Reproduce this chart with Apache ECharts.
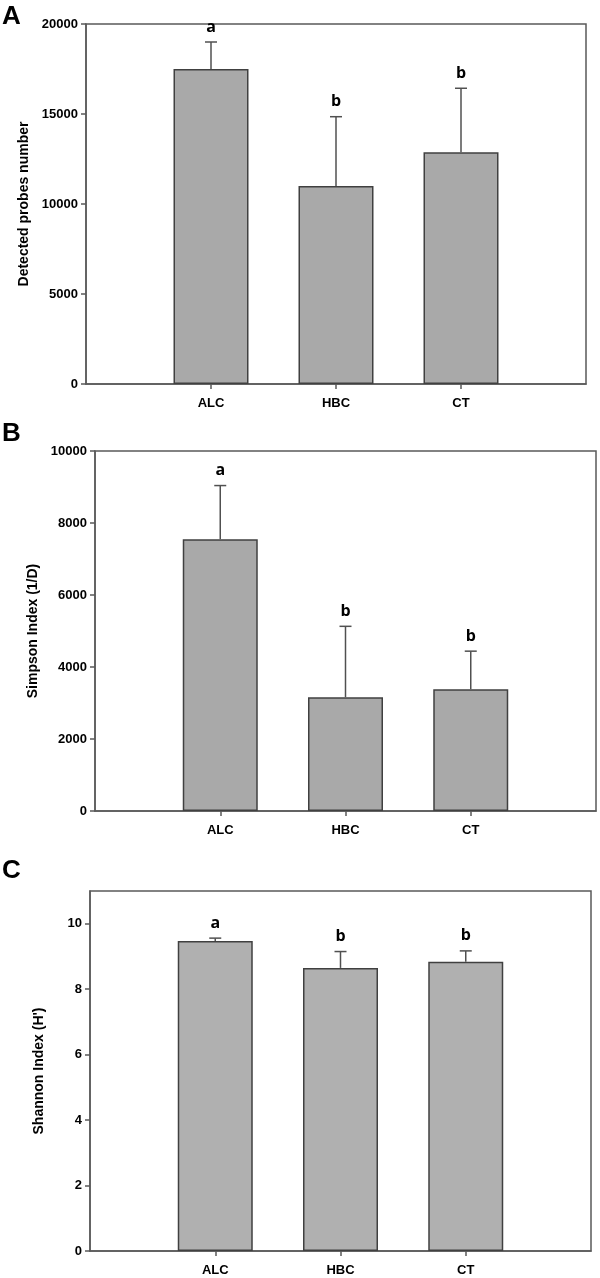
<!DOCTYPE html>
<html>
<head>
<meta charset="utf-8">
<script src="https://cdn.jsdelivr.net/npm/echarts@6/dist/echarts.min.js"></script>
<style>
html,body{margin:0;padding:0;background:#fff;}
#chart{width:600px;height:1278px;}
</style>
</head>
<body>
<div id="chart"></div>
<script>
// ---- data ----
const categories = ['ALC', 'HBC', 'CT'];
const probesMean = [17500, 11000, 12870];
const probesUpper = [19000, 14850, 16430];
const probesLetters = ['a', 'b', 'b'];
const simpsonMean = [7550, 3160, 3380];
const simpsonUpper = [9040, 5130, 4440];
const simpsonLetters = ['a', 'b', 'b'];
const shannonMean = [9.47, 8.65, 8.84];
const shannonUpper = [9.56, 9.15, 9.17];
const shannonLetters = ['a', 'b', 'b'];
const probesTicks = [0, 5000, 10000, 15000, 20000];
const simpsonTicks = [0, 2000, 4000, 6000, 8000, 10000];
const shannonTicks = [0, 2, 4, 6, 8, 10];
const panelTitles = ['Detected probes number', 'Simpson Index (1/D)', "Shannon Index (H')"];
const panelLetters = ['A', 'B', 'C'];

// ---- styles ----
const FONT = '"Liberation Sans", Arial, sans-serif';
const frameColor = '#5a5a5a';
const barEdge = '#404040';

const grids = [
  {left: 86, top: 24, width: 500, height: 360},
  {left: 95, top: 451, width: 501, height: 360},
  {left: 90, top: 891, width: 501, height: 360}
];
const yCfg = [
  {max: 20000, interval: 5000, ticks: probesTicks, gap: 38},
  {max: 10000, interval: 2000, ticks: simpsonTicks, gap: 47},
  {max: 11, interval: 1, ticks: shannonTicks, gap: 44}
];
const means = [probesMean, simpsonMean, shannonMean];
const uppers = [probesUpper, simpsonUpper, shannonUpper];
const letters = [probesLetters, simpsonLetters, shannonLetters];
const barColors = ['#a9a9a9', '#a9a9a9', '#b0b0b0'];
const catPos = categories.map((c, i) => i + 1);

const option = {
  animation: false,
  backgroundColor: '#fff',
  grid: grids.map(g => Object.assign({show: true, borderColor: frameColor, borderWidth: 1.5, backgroundColor: 'transparent'}, g)),
  xAxis: grids.map((g, i) => ({
    type: 'value', gridIndex: i, min: 0, max: 4, interval: 1,
    axisLine: {show: true, lineStyle: {color: frameColor, width: 1.5}},
    axisTick: {show: true, length: 5, customValues: catPos, lineStyle: {color: frameColor, width: 1.5}},
    axisLabel: {customValues: catPos, formatter: v => categories[Math.round(v) - 1] || '',
      fontFamily: FONT, fontWeight: 'bold', fontSize: 13, color: '#000', margin: 13},
    splitLine: {show: false}
  })),
  yAxis: yCfg.map((c, i) => ({
    type: 'value', gridIndex: i, min: 0, max: c.max, interval: c.interval,
    name: panelTitles[i], nameLocation: 'middle', nameRotate: 90, nameGap: c.gap,
    nameTextStyle: {fontFamily: FONT, fontWeight: 'bold', fontSize: 14, color: '#000'},
    axisLine: {show: true, lineStyle: {color: frameColor, width: 1.5}},
    axisTick: {show: true, length: 5, customValues: c.ticks, lineStyle: {color: frameColor, width: 1.5}},
    axisLabel: {customValues: c.ticks, formatter: v => String(v),
      fontFamily: FONT, fontWeight: 'bold', fontSize: 13, color: '#000', margin: 8},
    splitLine: {show: false}
  })),
  graphic: panelLetters.map((t, i) => ({
    type: 'text', left: 2, top: [4, 421, 858][i],
    style: {text: t, font: 'bold 26px ' + FONT, fill: '#000'}
  })),
  series: []
};

for (let i = 0; i < 3; i++) {
  option.series.push({
    type: 'bar', xAxisIndex: i, yAxisIndex: i, barWidth: 75,
    data: means[i].map((v, k) => [catPos[k], v]),
    itemStyle: {color: barColors[i], borderColor: barEdge, borderWidth: 1.5},
    z: 2
  });
  option.series.push({
    type: 'custom', xAxisIndex: i, yAxisIndex: i, clip: false, z: 3,
    data: means[i].map((v, k) => [catPos[k], v, uppers[i][k]]),
    renderItem: function (params, api) {
      const x = api.value(0), m = api.value(1), u = api.value(2);
      const lt = letters[i][params.dataIndex];
      const p0 = api.coord([x, m]);
      const p1 = api.coord([x, u]);
      const st = {stroke: '#505050', lineWidth: 1.5};
      return {
        type: 'group',
        children: [
          {type: 'line', shape: {x1: p0[0], y1: p0[1], x2: p1[0], y2: p1[1]}, style: st},
          {type: 'line', shape: {x1: p1[0] - 6, y1: p1[1], x2: p1[0] + 6, y2: p1[1]}, style: st},
          {type: 'text', style: {text: lt, x: p1[0], y: p1[1] - 15, align: 'center', verticalAlign: 'middle',
            font: 'bold 16px "Open Sans", "Liberation Sans", sans-serif', fill: '#000'}}
        ]
      };
    }
  });
}

const chart = echarts.init(document.getElementById('chart'), null, {renderer: 'canvas'});
chart.setOption(option);
</script>
</body>
</html>
